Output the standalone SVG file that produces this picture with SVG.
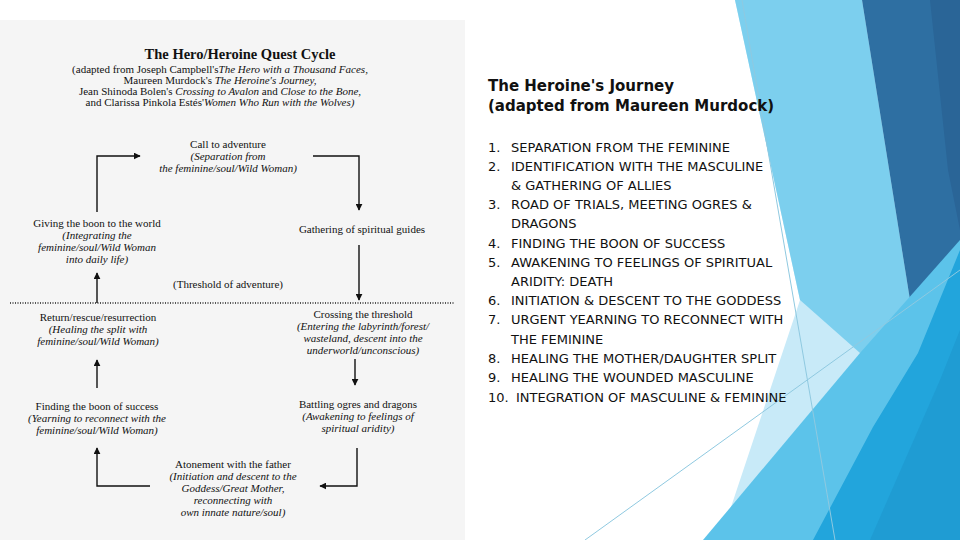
<svg xmlns="http://www.w3.org/2000/svg" width="960" height="540" viewBox="0 0 960 540">
<defs>
<marker id="ah" viewBox="0 0 10 10" refX="9" refY="5" markerWidth="5" markerHeight="5" orient="auto"><path d="M0,0 L10,5 L0,10 z" fill="#111"/></marker>
<style>
.s{font-family:"Liberation Serif",serif;fill:#111;font-size:11px;text-anchor:middle}
.i{font-style:italic}
.b{font-weight:bold}
.c{stroke:#111;stroke-width:1.4;fill:none;marker-end:url(#ah)}
.r{font-family:"DejaVu Sans",Verdana,sans-serif;fill:#111;font-size:13px}
.h{font-family:"DejaVu Sans",Verdana,sans-serif;fill:#111;font-size:15px;font-weight:bold}
</style>
</defs>
<rect width="960" height="540" fill="#fff"/>
<!-- decoration -->
<polygon points="735,0 960,0 960,540 720,540 800,300" fill="#c8eaf8"/>
<polygon points="735,0 862,0 918,350 860,353 800,300" fill="#7ccfee"/>
<polygon points="862,0 960,0 960,250 918,350" fill="#2e6fa2"/>
<polygon points="930,0 960,0 960,230 948,170" fill="#2a6597"/>
<polygon points="918,350 892,318 873,427" fill="#3a8fcc"/>
<polygon points="703,540 860,353 960,240 960,540" fill="#5cc3ea"/>
<polygon points="813,540 873,427 918,353 960,250 960,540" fill="#22a5dc"/>
<polygon points="870,540 940,380 960,330 960,540" fill="#1f9cd3"/>
<line x1="742" y1="0" x2="835" y2="540" stroke="#8fc9e0" stroke-width="1"/>
<line x1="585" y1="540" x2="960" y2="270" stroke="#8fc9e0" stroke-width="1"/>
<!-- scanned panel -->
<rect x="0" y="20" width="465" height="520" fill="#f5f5f5"/>
<g id="title">
<text class="s b" x="240" y="59" style="font-size:14.5px">The Hero/Heroine Quest Cycle</text>
<text class="s" x="220" y="73">(adapted from Joseph Campbell's<tspan class="i">The Hero with a Thousand Faces,</tspan></text>
<text class="s" x="220" y="84">Maureen Murdock's <tspan class="i">The Heroine's Journey,</tspan></text>
<text class="s" x="220" y="95">Jean Shinoda Bolen's <tspan class="i">Crossing to Avalon</tspan> and <tspan class="i">Close to the Bone,</tspan></text>
<text class="s" x="220" y="106">and Clarissa Pinkola Estés'<tspan class="i">Women Who Run with the Wolves)</tspan></text>
</g>
<g id="n1"><text class="s" x="228" y="148">Call to adventure</text>
<text class="s i" x="228" y="160">(Separation from</text><text class="s i" x="228" y="172">the feminine/soul/Wild Woman)</text></g>
<g id="n2"><text class="s" x="362" y="233">Gathering of spiritual guides</text></g>
<g id="n3"><text class="s" x="97" y="227">Giving the boon to the world</text>
<text class="s i" x="97" y="239">(Integrating the</text><text class="s i" x="97" y="251">feminine/soul/Wild Woman</text><text class="s i" x="97" y="263">into daily life)</text></g>
<g id="n4"><text class="s" x="228" y="288">(Threshold of adventure)</text></g>
<g id="n5"><text class="s" x="98" y="321">Return/rescue/resurrection</text>
<text class="s i" x="98" y="333">(Healing the split with</text><text class="s i" x="98" y="345">feminine/soul/Wild Woman)</text></g>
<g id="n6"><text class="s" x="363" y="318">Crossing the threshold</text>
<text class="s i" x="363" y="330">(Entering the labyrinth/forest/</text><text class="s i" x="363" y="342">wasteland, descent into the</text><text class="s i" x="363" y="354">underworld/unconscious)</text></g>
<g id="n7"><text class="s" x="97" y="410">Finding the boon of success</text>
<text class="s i" x="97" y="422">(Yearning to reconnect with the</text><text class="s i" x="97" y="434">feminine/soul/Wild Woman)</text></g>
<g id="n8"><text class="s" x="358" y="408">Battling ogres and dragons</text>
<text class="s i" x="358" y="420">(Awakening to feelings of</text><text class="s i" x="358" y="432">spiritual aridity)</text></g>
<g id="n9"><text class="s" x="233" y="468">Atonement with the father</text>
<text class="s i" x="233" y="480">(Initiation and descent to the</text><text class="s i" x="233" y="492">Goddess/Great Mother,</text><text class="s i" x="233" y="504">reconnecting with</text><text class="s i" x="233" y="516">own innate nature/soul)</text></g>
<g id="connectors">
<line x1="10" y1="303" x2="455" y2="303" stroke="#222" stroke-width="1.5" stroke-dasharray="1,1.5"/>
<polyline class="c" points="97,212 97,156 140,156"/>
<polyline class="c" points="313,156 359,156 359,210"/>
<polyline class="c" points="359,245 359,300"/>
<polyline class="c" points="97,303 97,273"/>
<polyline class="c" points="355,359 355,385"/>
<polyline class="c" points="97,388 97,360"/>
<polyline class="c" points="357,448 357,486 320,486"/>
<polyline class="c" points="150,486 97,486 97,448"/>
</g>
<g id="list">
<text class="h" x="488" y="91">The Heroine's Journey</text>
<text class="h" x="488" y="111">(adapted from Maureen Murdock)</text>
<text class="r" x="488" y="152">1. <tspan x="511">SEPARATION FROM THE FEMININE</tspan></text>
<text class="r" x="488" y="171">2. <tspan x="511">IDENTIFICATION WITH THE MASCULINE</tspan></text>
<text class="r" x="511" y="190">&amp; GATHERING OF ALLIES</text>
<text class="r" x="488" y="209">3. <tspan x="511">ROAD OF TRIALS, MEETING OGRES &amp;</tspan></text>
<text class="r" x="511" y="228">DRAGONS</text>
<text class="r" x="488" y="248">4. <tspan x="511">FINDING THE BOON OF SUCCESS</tspan></text>
<text class="r" x="488" y="267">5. <tspan x="511">AWAKENING TO FEELINGS OF SPIRITUAL</tspan></text>
<text class="r" x="511" y="286">ARIDITY: DEATH</text>
<text class="r" x="488" y="305">6. <tspan x="511">INITIATION &amp; DESCENT TO THE GODDESS</tspan></text>
<text class="r" x="488" y="324">7. <tspan x="511">URGENT YEARNING TO RECONNECT WITH</tspan></text>
<text class="r" x="511" y="344">THE FEMININE</text>
<text class="r" x="488" y="363">8. <tspan x="511">HEALING THE MOTHER/DAUGHTER SPLIT</tspan></text>
<text class="r" x="488" y="382">9. <tspan x="511">HEALING THE WOUNDED MASCULINE</tspan></text>
<text class="r" x="488" y="402">10. <tspan x="516">INTEGRATION OF MASCULINE &amp; FEMININE</tspan></text>
</g>
</svg>
